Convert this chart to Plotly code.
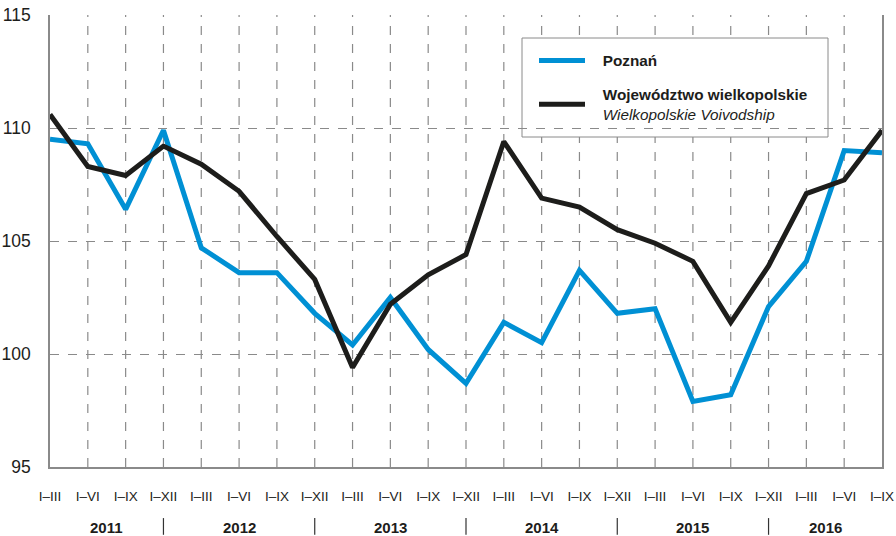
import plotly.graph_objects as go

tick_labels = ["I–III", "I–VI", "I–IX", "I–XII"] * 5 + ["I–III", "I–VI", "I–IX"]
poznan = [109.5, 109.3, 106.4, 109.9, 104.7, 103.6, 103.6, 101.8, 100.4, 102.5, 100.2, 98.7,
          101.4, 100.5, 103.7, 101.8, 102.0, 97.9, 98.2, 102.1, 104.1, 109.0, 108.9]
wlkp = [110.6, 108.3, 107.9, 109.2, 108.4, 107.2, 105.2, 103.3, 99.4, 102.2, 103.5, 104.4,
        109.4, 106.9, 106.5, 105.5, 104.9, 104.1, 101.4, 103.9, 107.1, 107.7, 109.9]
years = ["2011", "2012", "2013", "2014", "2015", "2016"]
year_pos = [1.5, 5, 9, 13, 17, 20.5]
sep_pos = [3, 7, 11, 15, 19]
y_ticks = [95, 100, 105, 110, 115]

FONT = "Liberation Sans Narrow, Arial Narrow, Liberation Sans, Arial"
NB = "\u00a0\u00a0\u00a0"
x = list(range(len(tick_labels)))

fig = go.Figure()
fig.add_trace(go.Scatter(x=x, y=poznan, mode="lines", name=NB + "<b>Poznań</b>",
                         legendgroup="a",
                         line=dict(color="#0090d4", width=5)))
fig.add_trace(go.Scatter(x=x, y=wlkp, mode="lines", legendgroup="b",
                         name=NB + "<b>Województwo wielkopolskie</b><br>" + NB + "<i>Wielkopolskie Voivodship</i>",
                         line=dict(color="#1d1d1b", width=5)))

# vertical dashed grid lines at each inner category
for xi in x[1:-1]:
    fig.add_shape(type="line", xref="x", yref="paper", x0=xi, x1=xi, y0=0, y1=1,
                  line=dict(color="#8a8a8a", width=1.2, dash="dash"), layer="below")

# legend box
fig.add_shape(type="rect", xref="paper", yref="paper",
              x0=(522 - 50) / 832, x1=(828 - 50) / 832,
              y0=(467 - 137) / 452, y1=(467 - 38) / 452,
              line=dict(color="#8a8a8a", width=1), fillcolor="white", layer="between")

for s in sep_pos:
    fig.add_shape(type="line", xref="x", yref="paper", x0=s, x1=s, y0=-0.113, y1=-0.150,
                  line=dict(color="#333333", width=1.2))

for yr, p in zip(years, year_pos):
    fig.add_annotation(x=p, y=-0.133, xref="x", yref="paper", text="<b>" + yr + "</b>",
                       xanchor="center", yanchor="middle",
                       showarrow=False, font=dict(family=FONT, size=15, color="#1d1d1b"))

fig.update_layout(
    width=896, height=536,
    margin=dict(l=50, r=14, t=15, b=69, autoexpand=False),
    paper_bgcolor="white", plot_bgcolor="white",
    font=dict(family=FONT, size=16, color="#1d1d1b"),
    showlegend=True,
    legend=dict(x=(534 - 50) / 832, y=(467 - 44) / 452, xanchor="left", yanchor="top",
                bgcolor="rgba(0,0,0,0)", borderwidth=0,
                font=dict(family=FONT, size=15.3, color="#1d1d1b"),
                tracegroupgap=11, itemwidth=46),
    xaxis=dict(range=[0, 22], tickmode="array", tickvals=x, ticktext=tick_labels,
               showgrid=False, zeroline=False, showline=True, linecolor="#8a8a8a", linewidth=1.5,
               ticks="", ticklabelstandoff=16, automargin=False,
               tickfont=dict(family=FONT, size=13.5)),
    yaxis=dict(range=[95, 115], tickmode="array", tickvals=y_ticks,
               showgrid=True, gridcolor="#8a8a8a", gridwidth=1.2, griddash="dash",
               zeroline=False, showline=True, mirror=True, linecolor="#8a8a8a", linewidth=1.5,
               ticks="", ticklabelstandoff=14, automargin=False,
               tickfont=dict(family=FONT, size=17.5)),
)

fig.write_html("out.html", config={"displayModeBar": False},
               post_script="document.body.style.margin='0px';document.body.style.overflow='hidden';")
